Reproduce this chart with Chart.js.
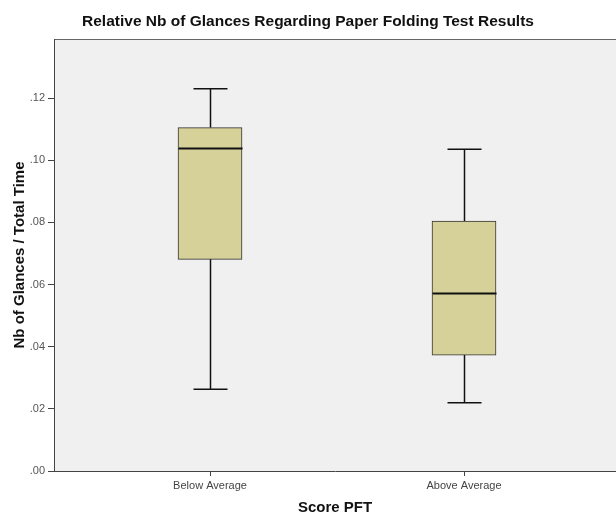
<!DOCTYPE html>
<html>
<head>
<meta charset="utf-8">
<title>Relative Nb of Glances Regarding Paper Folding Test Results</title>
<script src="https://cdn.jsdelivr.net/npm/chart.js@4.4.0/dist/chart.umd.min.js"></script>
<style>
  html, body { margin: 0; padding: 0; background: #fff; }
  canvas { display: block; }
</style>
</head>
<body>
<canvas id="boxChart" width="616" height="515"></canvas>
<script>
// Box plot values (SPSS style)
const categories = ["Below Average", "Above Average"];
const xPositions = [1, 2];
const whiskerLow = [0.0263, 0.0220];
const q1 = [0.0681, 0.0373];
const median = [0.1038, 0.0571];
const q3 = [0.1105, 0.0804];
const whiskerHigh = [0.1230, 0.1035];
const yTicks = [0, 0.02, 0.04, 0.06, 0.08, 0.10, 0.12];

const FONT = "Arial, 'Liberation Sans', sans-serif";

// Plot area background + top frame line
const framePlugin = {
  id: "frame",
  beforeDraw(chart) {
    const { ctx, chartArea: a } = chart;
    ctx.save();
    ctx.fillStyle = "#f0f0f0";
    ctx.fillRect(a.left, a.top, a.right - a.left, a.bottom - a.top);
    ctx.strokeStyle = "#666";
    ctx.lineWidth = 1;
    ctx.beginPath();
    ctx.moveTo(a.left, a.top + 0.5);
    ctx.lineTo(a.right, a.top + 0.5);
    ctx.stroke();
    ctx.restore();
  },
};

// Whiskers, caps and median line, placed with the chart's scales
const whiskerPlugin = {
  id: "whiskers",
  afterDatasetsDraw(chart) {
    const { ctx, scales: { x, y } } = chart;
    ctx.save();
    ctx.strokeStyle = "#111";
    xPositions.forEach((pos, i) => {
      const cx = Math.round(x.getPixelForValue(pos)) + 0.5;
      const capHalf = 17;
      const boxHalf = 32;
      ctx.lineWidth = 1.5;
      ctx.beginPath();
      // upper whisker
      ctx.moveTo(cx, y.getPixelForValue(q3[i]));
      ctx.lineTo(cx, y.getPixelForValue(whiskerHigh[i]));
      ctx.moveTo(cx - capHalf, y.getPixelForValue(whiskerHigh[i]));
      ctx.lineTo(cx + capHalf, y.getPixelForValue(whiskerHigh[i]));
      // lower whisker
      ctx.moveTo(cx, y.getPixelForValue(q1[i]));
      ctx.lineTo(cx, y.getPixelForValue(whiskerLow[i]));
      ctx.moveTo(cx - capHalf, y.getPixelForValue(whiskerLow[i]));
      ctx.lineTo(cx + capHalf, y.getPixelForValue(whiskerLow[i]));
      ctx.stroke();
      // median
      ctx.lineWidth = 2;
      ctx.beginPath();
      ctx.moveTo(cx - boxHalf, y.getPixelForValue(median[i]));
      ctx.lineTo(cx + boxHalf, y.getPixelForValue(median[i]));
      ctx.stroke();
    });
    ctx.restore();
  },
};

const ctx = document.getElementById("boxChart").getContext("2d");
const boxChart = new Chart(ctx, {
  type: "bar",
  data: {
    datasets: [
      {
        data: xPositions.map((pos, i) => ({ x: pos, y: [q1[i], q3[i]] })),
        backgroundColor: "#d6d198",
        borderColor: "#333",
        borderWidth: 1,
        borderSkipped: false,
        barThickness: 64,
      },
    ],
  },
  options: {
    responsive: false,
    animation: false,
    devicePixelRatio: 1,
    layout: { padding: 0 },
    plugins: {
      legend: { display: false },
      tooltip: { enabled: false },
      title: {
        display: true,
        text: "Relative Nb of Glances Regarding Paper Folding Test Results",
        color: "#111",
        font: { family: FONT, size: 15.5, weight: "bold", lineHeight: 1.2 },
        padding: { top: 12.2, bottom: 8.2 },
      },
    },
    scales: {
      x: {
        type: "linear",
        offset: false,
        min: 0.3858,
        max: 2.5984,
        afterBuildTicks: (scale) => {
          scale.ticks = xPositions.map((v) => ({ value: v }));
        },
        afterFit: (scale) => {
          scale.height = 44;
        },
        ticks: {
          autoSkip: false,
          maxRotation: 0,
          padding: 3,
          color: "#444",
          font: { family: FONT, size: 11 },
          callback: (v) => categories[xPositions.indexOf(v)] || "",
        },
        grid: { offset: false, drawOnChartArea: false, tickLength: 5, color: "#444" },
        border: { display: true, color: "#444", width: 1 },
        title: {
          display: true,
          text: "Score PFT",
          color: "#111",
          font: { family: FONT, size: 15, weight: "bold", lineHeight: 1 },
          padding: { top: 0, bottom: 0 },
        },
      },
      y: {
        type: "linear",
        min: 0,
        max: 0.139,
        afterBuildTicks: (scale) => {
          scale.ticks = yTicks.map((v) => ({ value: v }));
        },
        afterFit: (scale) => {
          scale.width = 54;
        },
        ticks: {
          padding: 3,
          color: "#555",
          font: { family: FONT, size: 11 },
          callback: (v) => v.toFixed(2).replace("0.", "."),
        },
        grid: { drawOnChartArea: false, tickLength: 6, color: "#444" },
        border: { display: true, color: "#444", width: 1 },
        title: {
          display: true,
          text: "Nb of Glances / Total Time",
          color: "#111",
          font: { family: FONT, size: 15, weight: "bold", lineHeight: 1.2 },
          padding: { top: 11, bottom: 0 },
        },
      },
    },
  },
  plugins: [framePlugin, whiskerPlugin],
});
</script>
</body>
</html>
